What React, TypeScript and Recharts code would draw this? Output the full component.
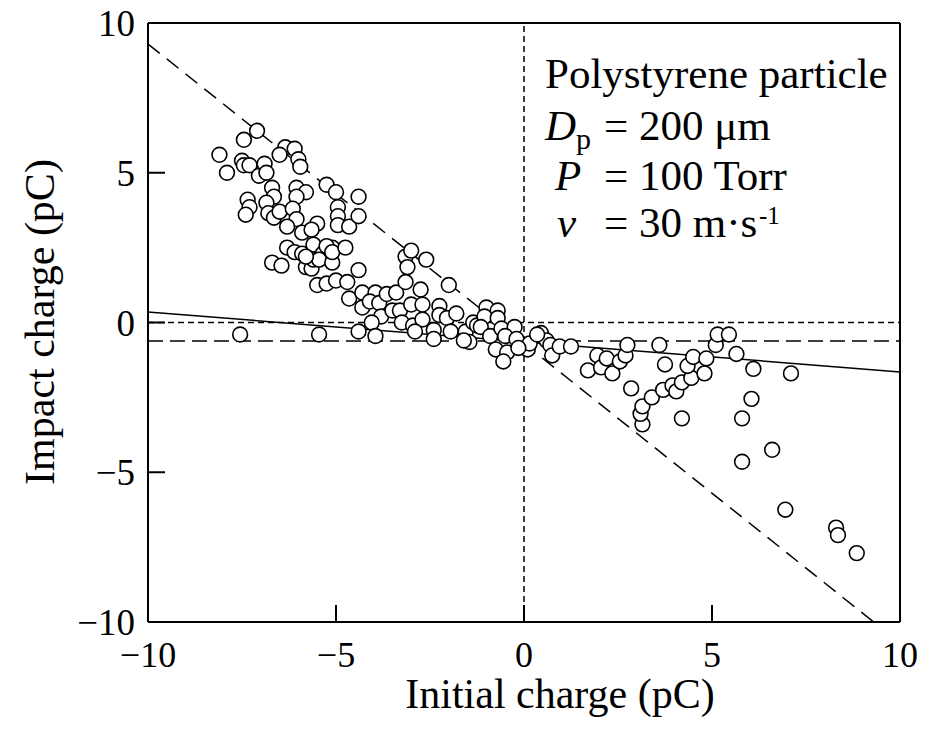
import { ScatterChart, Scatter, XAxis, YAxis, ReferenceLine, Label } from "recharts"

// initial charge (pC), impact charge (pC)
const negativeSide: [number, number][] = [
  [-8.1, 5.6], [-7.9, 5.0], [-7.45, 6.1], [-7.1, 6.4], [-7.5, 5.4], [-7.45, 5.25], [-7.3, 5.25],
  [-7.05, 4.9], [-6.9, 5.3], [-6.85, 5.0], [-6.7, 4.5], [-6.65, 4.2], [-7.35, 4.1], [-7.3, 3.85],
  [-7.4, 3.6], [-6.85, 4.0], [-6.8, 3.65], [-6.65, 3.5], [-6.5, 3.7], [-6.35, 5.85], [-6.5, 5.6],
  [-6.1, 5.8], [-6.0, 5.45], [-5.95, 5.2], [-6.05, 4.5], [-5.8, 4.35], [-6.05, 4.2], [-6.15, 3.8],
  [-6.05, 3.45], [-6.3, 3.2], [-5.9, 3.0], [-5.5, 3.3], [-5.65, 3.1], [-6.3, 2.5], [-6.1, 2.35],
  [-5.9, 2.3], [-6.7, 2.0], [-6.45, 1.9], [-5.8, 1.85], [-5.65, 1.8], [-5.6, 2.6], [-5.35, 2.3],
  [-5.6, 2.1], [-5.45, 2.1], [-5.1, 2.5], [-5.1, 2.0], [-5.5, 1.25], [-5.25, 1.3], [-5.0, 1.4],
  [-5.25, 4.6], [-5.0, 4.35], [-4.95, 3.85], [-4.95, 3.55], [-4.95, 3.25], [-4.65, 3.2],
  [-4.4, 4.2], [-4.4, 3.55], [-7.55, -0.4], [-5.45, -0.4], [-5.8, 2.2], [-5.25, 2.55], [-5.1, 2.35],
]

const nearZero: [number, number][] = [
  [-4.75, 2.5], [-4.4, 1.75], [-4.7, 1.35], [-4.65, 0.8], [-4.3, 1.0], [-3.95, 1.0], [-4.3, 0.5],
  [-4.1, 0.7], [-3.85, 0.65], [-3.65, 0.95], [-3.4, 1.0], [-3.15, 2.2], [-3.0, 2.4], [-2.6, 2.1],
  [-3.1, 1.85], [-3.15, 1.35], [-2.75, 1.1], [-2.0, 1.25], [-3.8, 0.2], [-4.05, 0.0], [-4.4, -0.3],
  [-3.95, -0.45], [-3.5, 0.4], [-3.3, 0.4], [-3.0, 0.6], [-3.25, 0.0], [-2.95, -0.1], [-2.7, 0.1],
  [-2.9, -0.3], [-2.7, 0.6], [-2.4, -0.25], [-2.4, -0.55], [-2.25, 0.55], [-2.25, 0.25],
  [-2.05, 0.15], [-1.8, 0.3], [-1.95, -0.3], [-1.55, -0.3], [-1.45, -0.65], [-1.6, -0.6],
  [-1.35, 0.0], [-1.25, -0.1], [-1.0, 0.5], [-0.7, 0.4], [-1.05, 0.2], [-0.7, 0.15], [-1.15, -0.15],
  [-0.9, -0.45], [-0.6, -0.2], [-0.25, -0.15], [-0.5, -0.45], [-0.2, -0.55], [-0.75, -0.9],
  [-0.45, -1.0], [-0.55, -1.3], [0.1, -0.9], [0.15, -0.7], [-0.15, -0.85], [0.45, -0.35],
  [0.6, -0.6], [0.7, -0.75], [0.75, -1.1], [0.95, -0.8], [1.25, -0.8], [0.35, -0.4],
]

const positiveSide: [number, number][] = [
  [1.7, -1.6], [1.95, -1.1], [2.05, -1.5], [2.2, -1.2], [2.35, -1.7], [2.55, -1.3], [2.7, -1.1],
  [2.75, -0.75], [3.6, -0.75], [3.75, -1.4], [2.85, -2.2], [3.15, -3.4], [3.1, -3.05], [3.15, -2.8],
  [3.4, -2.5], [3.7, -2.25], [3.95, -2.1], [4.05, -2.3], [4.2, -2.0], [4.45, -1.85], [4.8, -1.7],
  [4.35, -1.45], [4.5, -1.15], [4.85, -1.2], [5.1, -0.75], [5.15, -0.4], [5.45, -0.4], [5.65, -1.05],
  [6.1, -1.55], [7.1, -1.7], [6.05, -2.55], [5.8, -3.2], [4.2, -3.2], [6.6, -4.25], [5.8, -4.65],
  [6.95, -6.25], [8.3, -6.85], [8.35, -7.1], [8.85, -7.7],
]

const axisTicks = [-10, -5, 0, 5, 10]
const slopeLine = [{ x: -10, y: 9.3 }, { x: 9.3, y: -10 }]
const fitLine = [{ x: -10, y: 0.35 }, { x: 10, y: -1.65 }]
const offsetLevel = -0.62

const font = "'Liberation Serif', 'Times New Roman', serif"
const points = [...negativeSide, ...nearZero, ...positiveSide].map(([x, y]) => ({ x, y }))
const fmt = (v: number) => String(v).replace("-", "\u2212")

const Dot = (p: any) => <circle cx={p.cx} cy={p.cy} r={7.4} fill="#fff" stroke="#000" strokeWidth={1.6} />

export default function App() {
  return (
    <div style={{ position: "absolute", left: 0, top: 0, width: 930, height: 730, background: "#fff", fontFamily: font }}>
      <ScatterChart width={930} height={730} margin={{ top: 23, right: 30, bottom: 23, left: 68 }} style={{ fontFamily: font }}>
        <XAxis
          type="number"
          dataKey="x"
          domain={[-10, 10]}
          ticks={axisTicks}
          allowDataOverflow
          tickFormatter={fmt}
          height={85}
          tickSize={-17}
          tickMargin={36}
          axisLine={{ stroke: "#000", strokeWidth: 2 }}
          tickLine={{ stroke: "#000", strokeWidth: 2 }}
          tick={{ fill: "#000", fontSize: 36, style: { fontFamily: font } }}
        >
          <Label
            content={() => (
              <text x={560} y={708} textAnchor="middle" fill="#000" fontSize={42} style={{ fontFamily: font }}>
                Initial charge (pC)
              </text>
            )}
          />
        </XAxis>
        <YAxis
          type="number"
          dataKey="y"
          domain={[-10, 10]}
          ticks={axisTicks}
          allowDataOverflow
          tickFormatter={fmt}
          width={80}
          tickSize={-17}
          tickMargin={30}
          axisLine={{ stroke: "#000", strokeWidth: 2 }}
          tickLine={{ stroke: "#000", strokeWidth: 2 }}
          tick={{ fill: "#000", fontSize: 37, style: { fontFamily: font } }}
        >
          <Label
            content={() => (
              <text x={40} y={322} transform="rotate(-90 40 322)" textAnchor="middle" dominantBaseline="central"
                fill="#000" fontSize={42} style={{ fontFamily: font }}>
                Impact charge (pC)
              </text>
            )}
          />
        </YAxis>
        <ReferenceLine y={10} stroke="#000" strokeWidth={2} />
        <ReferenceLine x={10} stroke="#000" strokeWidth={2} />
        <ReferenceLine x={0} stroke="#000" strokeWidth={1.5} strokeDasharray="6 4" />
        <ReferenceLine y={0} stroke="#000" strokeWidth={1.5} strokeDasharray="6 4" />
        <ReferenceLine y={offsetLevel} stroke="#000" strokeWidth={1.5} strokeDasharray="15 7" />
        <ReferenceLine segment={slopeLine} stroke="#000" strokeWidth={1.5} strokeDasharray="15 9" ifOverflow="hidden" />
        <ReferenceLine segment={fitLine} stroke="#000" strokeWidth={1.5} />
        <Scatter data={points} shape={Dot} isAnimationActive={false} />
      </ScatterChart>
      <svg width={930} height={730} style={{ position: "absolute", left: 0, top: 0, pointerEvents: "none", fontFamily: font }}
        fontSize={43} fill="#000">
        <text x={545} y={88}>Polystyrene particle</text>
        <text x={545} y={140}>
          <tspan fontStyle="italic">D</tspan>
          <tspan fontSize={30} dy={9}>p</tspan>
        </text>
        <text x={604} y={140}>= 200 μm</text>
        <text x={555} y={190} fontStyle="italic">P</text>
        <text x={604} y={190}>= 100 Torr</text>
        <text x={557} y={237} fontStyle="italic">v</text>
        <text x={604} y={237}>= 30 m·s</text>
        <text x={759} y={224} fontSize={25}>-1</text>
      </svg>
    </div>
  )
}
